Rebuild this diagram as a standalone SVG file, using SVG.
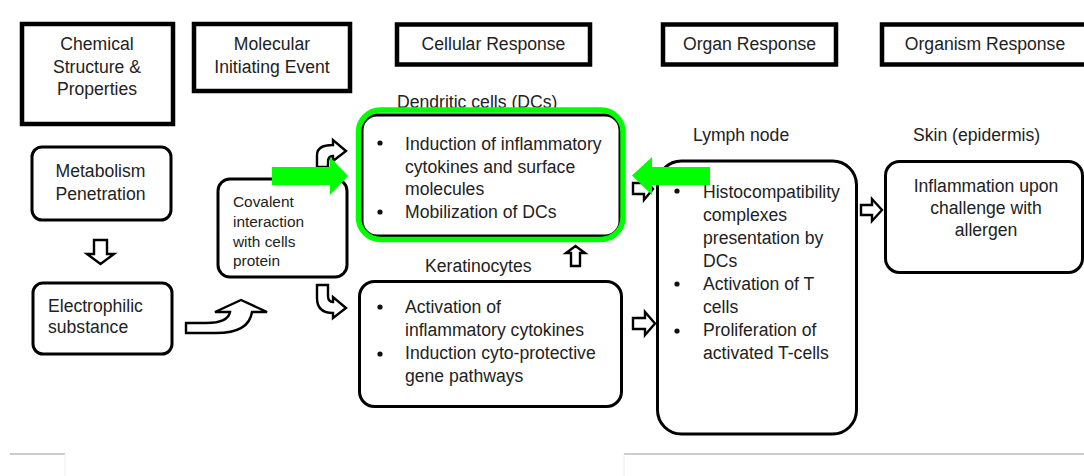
<svg xmlns="http://www.w3.org/2000/svg" width="1084" height="476" viewBox="0 0 1084 476">
  <style>
    text { font-family: "Liberation Sans", Arial, sans-serif; font-size: 17.6px; fill: #222; }
    .small { font-size: 15.4px; }
    .mid { text-anchor: middle; }
    .hdr { fill: #fff; stroke: #000; stroke-width: 4.5; }
    .box { fill: #fff; stroke: #000; stroke-width: 3; }
    .hollow { fill: #fff; stroke: #000; stroke-width: 2.4; stroke-linejoin: miter; }
    .green { fill: #00ff00; }
    .bullet { fill: #111; }
    .frame { fill: none; stroke: #bbb; stroke-width: 1.5; }
    .frame-v { fill: none; stroke: #eee; stroke-width: 1; }
  </style>

  <rect width="1084" height="476" fill="#fff"/>

  <!-- column headers -->
  <g id="hdr-chemical">
    <rect class="hdr" x="22" y="24" width="151" height="100"/>
    <text class="mid" x="97" y="50">Chemical</text>
    <text class="mid" x="97" y="73">Structure &amp;</text>
    <text class="mid" x="97" y="95">Properties</text>
  </g>
  <g id="hdr-molecular">
    <rect class="hdr" x="194" y="24" width="156" height="67"/>
    <text class="mid" x="272" y="50">Molecular</text>
    <text class="mid" x="272" y="73">Initiating Event</text>
  </g>
  <g id="hdr-cellular">
    <rect class="hdr" x="397" y="24.5" width="193" height="40"/>
    <text class="mid" x="493.5" y="50">Cellular Response</text>
  </g>
  <g id="hdr-organ">
    <rect class="hdr" x="663" y="24.5" width="173" height="40"/>
    <text class="mid" x="749.5" y="50">Organ Response</text>
  </g>
  <g id="hdr-organism">
    <rect class="hdr" x="882" y="24.5" width="210" height="40"/>
    <text class="mid" x="985" y="50">Organism Response</text>
  </g>

  <!-- process nodes -->
  <g id="metabolism">
    <rect class="box" x="32" y="147" width="139" height="73" rx="10"/>
    <text class="mid" x="100.5" y="177">Metabolism</text>
    <text class="mid" x="100.5" y="200">Penetration</text>
  </g>
  <g id="electrophilic">
    <rect class="box" x="33" y="283" width="139" height="71" rx="10"/>
    <text x="48" y="312">Electrophilic</text>
    <text x="48" y="333">substance</text>
  </g>
  <g id="covalent">
    <rect class="box" x="218" y="179" width="129" height="98" rx="12"/>
    <text class="small" x="233" y="207">Covalent</text>
    <text class="small" x="233" y="227">interaction</text>
    <text class="small" x="233" y="247">with cells</text>
    <text class="small" x="233" y="266">protein</text>
  </g>
  <g id="dendritic">
    <text x="397" y="108">Dendritic cells (DCs)</text>
    <rect class="box" x="362" y="115" width="258" height="121" rx="15"/>
    <circle class="bullet" cx="380" cy="143" r="2.6"/>
    <text x="405" y="150">Induction of inflammatory</text>
    <text x="405" y="172.5">cytokines and surface</text>
    <text x="405" y="195">molecules</text>
    <circle class="bullet" cx="380" cy="212" r="2.6"/>
    <text x="405" y="218">Mobilization of DCs</text>
  </g>
  <g id="keratinocytes">
    <text x="425" y="272">Keratinocytes</text>
    <rect class="box" x="359.5" y="281.5" width="262" height="125" rx="15"/>
    <circle class="bullet" cx="380" cy="307" r="2.6"/>
    <text x="405" y="313">Activation of</text>
    <text x="405" y="336">inflammatory cytokines</text>
    <circle class="bullet" cx="380" cy="354" r="2.6"/>
    <text x="405" y="359">Induction cyto-protective</text>
    <text x="405" y="382">gene pathways</text>
  </g>
  <g id="lymph-node">
    <text x="693" y="141">Lymph node</text>
    <rect class="box" x="657.5" y="161" width="199" height="273" rx="24"/>
    <circle class="bullet" cx="677" cy="191" r="2.6"/>
    <text x="703" y="198">Histocompatibility</text>
    <text x="703" y="221">complexes</text>
    <text x="703" y="244">presentation by</text>
    <text x="703" y="267">DCs</text>
    <circle class="bullet" cx="677" cy="284" r="2.6"/>
    <text x="703" y="290">Activation of T</text>
    <text x="703" y="313">cells</text>
    <circle class="bullet" cx="677" cy="331" r="2.6"/>
    <text x="703" y="336">Proliferation of</text>
    <text x="703" y="359">activated T-cells</text>
  </g>
  <g id="skin">
    <text x="913" y="141">Skin (epidermis)</text>
    <rect class="box" x="885.5" y="161.5" width="197" height="111" rx="14"/>
    <text class="mid" x="986" y="192">Inflammation upon</text>
    <text class="mid" x="986" y="214">challenge with</text>
    <text class="mid" x="986" y="236">allergen</text>
  </g>

  <!-- connectors: hollow block arrows -->
  <g id="connectors">
    <polygon class="hollow" points="94,240 107,240 107,254 114,254 100.5,264 87,254 94,254"/>
    <path class="hollow" d="M186,323 L206,323 Q228,323 230,312 L215,312 L241,300 L267,312 L252,312 Q249,333 216,333 L186,333 Z"/>
    <path class="hollow" d="M317,167 L317,155 Q317,145 333,145 L333,140 L346,151 L333,161 L333,156 Q328,156 328,162 L328,167 Z"/>
    <path class="hollow" d="M317,285 L328,285 L328,296 Q328,302 333,302 L333,297 L346,308 L333,318 L333,313 Q317,313 317,298 Z"/>
    <polygon class="hollow" points="571,266 580,266 580,253 585,253 575.5,246 566,253 571,253"/>
    <polygon class="hollow" points="633,183 644,183 644,178 653,189 644,200 644,194 633,194"/>
    <polygon class="hollow" points="633,318 645,318 645,312 655,323.5 645,335 645,329 633,329"/>
    <polygon class="hollow" points="861,205 872,205 872,199 882,210 872,221 872,215 861,215"/>
  </g>

  <!-- highlight on the dendritic cell box -->
  <g id="highlight">
    <rect x="358.5" y="110" width="264.5" height="129.5" rx="22" fill="none" stroke="#00ff00" stroke-width="5.5"/>
    <polygon class="green" points="272,167 330,167 330,157 348,176 330,195 330,185 272,185"/>
    <polygon class="green" points="710,167 652,167 652,157 632,175.5 652,195 652,185 710,185"/>
  </g>

  <!-- page frame lines -->
  <g id="frame">
    <line class="frame" x1="10" y1="454" x2="65" y2="454"/>
    <line class="frame-v" x1="65" y1="454" x2="65" y2="476"/>
    <line class="frame" x1="624" y1="454" x2="1084" y2="454"/>
    <line class="frame-v" x1="624" y1="454" x2="624" y2="476"/>
  </g>
</svg>
